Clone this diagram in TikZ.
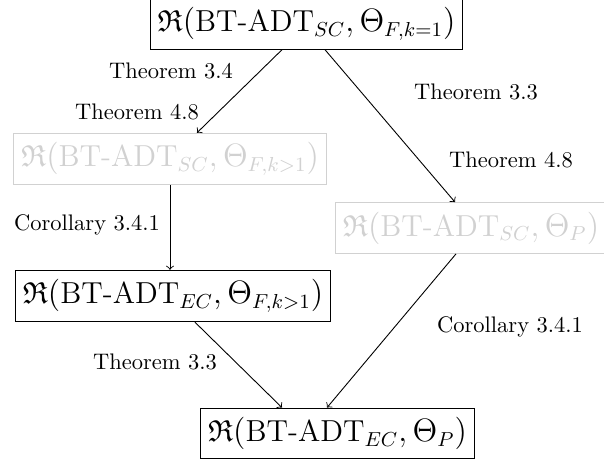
\documentclass[tikz,border=0pt]{standalone}
\usepackage{amssymb}
\usetikzlibrary{calc}
\begin{document}
\begin{tikzpicture}[x=0.4444pt,y=-0.4444pt,
  box/.style={draw, font=\fontsize{13.5}{16}\selectfont, inner xsep=3.3pt, inner ysep=4.1pt},
  faded/.style={box, draw=black!18, text=black!18},
  lbl/.style={font=\normalsize},
  >=to]
\useasboundingbox (0,0) rectangle (604,461);
\node[box] (top) at (306.5,23.5) {$\mathfrak{R}(\mbox{BT-ADT}_{SC},\Theta_{F,k=1})$};
\node[faded] (fsc) at (170,159) {$\mathfrak{R}(\mbox{BT-ADT}_{SC},\Theta_{F,k>1})$};
\node[faded] (psc) at (471,228) {$\mathfrak{R}(\mbox{BT-ADT}_{SC},\Theta_{P})$};
\node[box] (fec) at (173,296) {$\mathfrak{R}(\mbox{BT-ADT}_{EC},\Theta_{F,k>1})$};
\node[box] (pec) at (337.5,433.5) {$\mathfrak{R}(\mbox{BT-ADT}_{EC},\Theta_{P})$};
\draw[->] ($(top.south)+(-24.5,0)$) -- ($(fsc.north)+(27,0)$);
\draw[->] ($(top.south)+(18.5,0)$) -- ($(psc.north)+(-16,0)$);
\draw[->] (fsc.south) -- (fsc.south |- fec.north);
\draw[->] ($(fec.south)+(22,0)$) -- ($(pec.north)+(-55.5,0)$);
\draw[->] ($(psc.south)+(-15,0)$) -- ($(pec.north)+(-10.5,0)$);
\node[lbl] (l1) at (171,71) {Theorem 3.4};
\node[lbl] (l2) at (137,112) {Theorem 4.8};
\node[lbl] (l3) at (476,92) {Theorem 3.3};
\node[lbl] (l4) at (511,160) {Theorem 4.8};
\node[lbl] (l5) at (87,225) {Corollary 3.4.1};
\node[lbl] (l6) at (155,362) {Theorem 3.3};
\node[lbl] (l7) at (510,327) {Corollary 3.4.1};
\end{tikzpicture}
\end{document}
